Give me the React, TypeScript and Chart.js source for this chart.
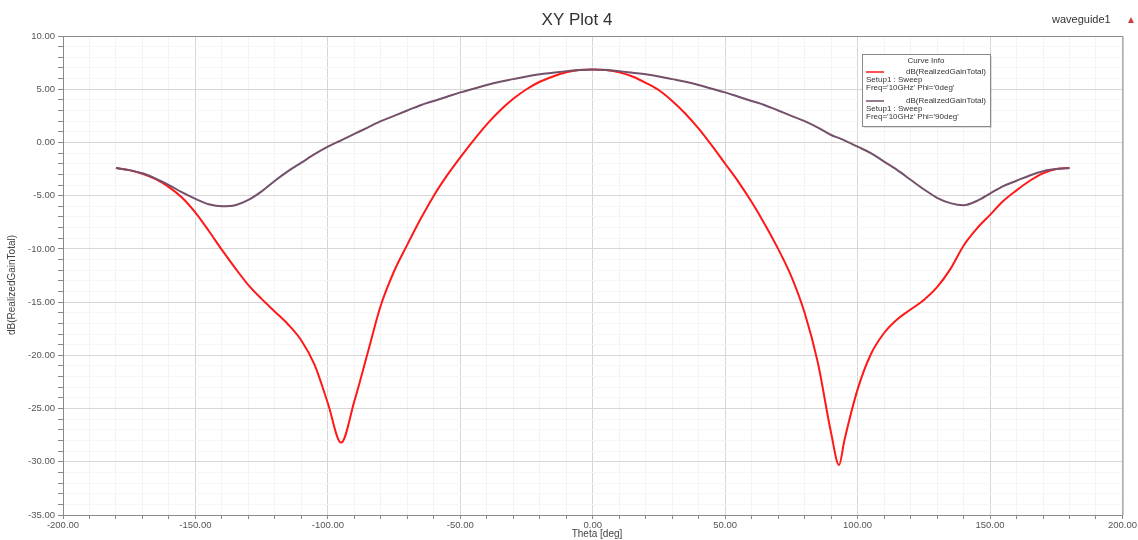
import React, { useEffect, useRef } from "react";
import { Chart, registerables } from "chart.js";

Chart.register(...registerables);

const theta = [
  -180, -175, -170, -165, -160, -155, -150, -145, -140, -135, -130, -125, -120, -115, -110, -105, -100, -95, -90, -85,
  -80, -75, -70, -65, -60, -55, -50, -45, -40, -35, -30, -25, -20, -15, -10, -5, 0, 5, 10, 15, 20, 25, 30, 35, 40, 45,
  50, 55, 60, 65, 70, 75, 80, 85, 90, 93, 95, 100, 105, 110, 115, 120, 125, 130, 135, 140, 145, 150, 155, 160, 165,
  170, 175, 180,
];

const gainPhi0 = [
  -2.4, -2.6, -2.95, -3.45, -4.2, -5.2, -6.6, -8.3, -10.1, -11.8, -13.4, -14.7, -15.9, -17.1, -18.6, -20.9, -24.5, -28.2,
  -24.3, -19.8, -15.3, -12.1, -9.6, -7.2, -5.0, -3.1, -1.4, 0.2, 1.7, 3.0, 4.1, 5.0, 5.7, 6.2, 6.6, 6.8, 6.85, 6.8, 6.6,
  6.2, 5.6, 4.9, 3.9, 2.7, 1.3, -0.3, -2.0, -3.7, -5.6, -7.7, -10.0, -12.6, -16.0, -20.7, -27.3, -30.3, -28.0, -23.2,
  -19.9, -17.9, -16.6, -15.7, -14.8, -13.6, -11.9, -9.7, -8.1, -6.8, -5.5, -4.5, -3.6, -2.9, -2.5, -2.4,
];

const gainPhi90 = [
  -2.4, -2.6, -2.9, -3.4, -4.0, -4.7, -5.3, -5.8, -6.0, -5.9, -5.4, -4.6, -3.6, -2.7, -1.9, -1.1, -0.4, 0.2, 0.8, 1.4,
  2.0, 2.5, 3.0, 3.5, 3.9, 4.3, 4.7, 5.05, 5.4, 5.7, 5.95, 6.2, 6.4, 6.55, 6.7, 6.8, 6.85, 6.8, 6.7, 6.55, 6.4, 6.2,
  5.95, 5.7, 5.4, 5.05, 4.7, 4.3, 3.9, 3.5, 3.0, 2.5, 2.0, 1.4, 0.7, 0.4, 0.2, -0.4, -1.0, -1.8, -2.6, -3.5, -4.4, -5.2,
  -5.7, -5.9, -5.5, -4.8, -4.1, -3.6, -3.1, -2.7, -2.5, -2.4,
];

const seriesNames = ["dB(RealizedGainTotal)", "dB(RealizedGainTotal)"];
const seriesSetup = ["Setup1 : Sweep", "Setup1 : Sweep"];
const seriesFreq = ["Freq='10GHz' Phi='0deg'", "Freq='10GHz' Phi='90deg'"];
const seriesColors = ["rgb(255,24,24)", "#74506b"];

const xMin = -200, xMax = 200, xStep = 10, xMajor = 50;
const yMin = -35, yMax = 10, yStep = 1, yMajor = 5;

const FONT = "Arial, 'Liberation Sans', sans-serif";

const overlayPlugin = {
  id: "overlay",
  afterDraw(chart: any) {
    const ctx = chart.ctx as CanvasRenderingContext2D;
    const a = chart.chartArea;
    ctx.save();
    // plot frame top/right
    ctx.strokeStyle = "#8a8a8a";
    ctx.lineWidth = 1;
    ctx.beginPath();
    ctx.moveTo(a.left, a.top + 0.5);
    ctx.lineTo(a.right + 0.5, a.top + 0.5);
    ctx.lineTo(a.right + 0.5, a.bottom);
    ctx.stroke();

    // title
    ctx.fillStyle = "#333";
    ctx.font = `17px ${FONT}`;
    ctx.textAlign = "center";
    ctx.textBaseline = "middle";
    ctx.fillText("XY Plot 4", 577, 20);

    // waveguide1
    ctx.font = `11px ${FONT}`;
    ctx.textAlign = "left";
    ctx.fillStyle = "#333";
    ctx.fillText("waveguide1", 1052, 20);
    ctx.fillStyle = "#d04040";
    ctx.beginPath();
    ctx.moveTo(1128, 23);
    ctx.lineTo(1134, 23);
    ctx.lineTo(1131, 17);
    ctx.closePath();
    ctx.fill();

    // axis titles
    ctx.fillStyle = "#444";
    ctx.font = `10px ${FONT}`;
    ctx.textAlign = "center";
    ctx.fillText("Theta [deg]", 597, 534);
    ctx.save();
    ctx.translate(12, 285);
    ctx.rotate(-Math.PI / 2);
    ctx.fillText("dB(RealizedGainTotal)", 0, 0);
    ctx.restore();

    // legend box
    const bx = 862, by = 54, bw = 128, bh = 72;
    ctx.fillStyle = "rgba(0,0,0,0.12)";
    ctx.fillRect(bx + 2, by + 2, bw, bh);
    ctx.fillStyle = "#fff";
    ctx.fillRect(bx, by, bw, bh);
    ctx.strokeStyle = "#888";
    ctx.strokeRect(bx + 0.5, by + 0.5, bw, bh);
    ctx.fillStyle = "#333";
    ctx.font = `8px ${FONT}`;
    ctx.textAlign = "center";
    ctx.fillText("Curve Info", bx + bw / 2, by + 7);
    for (let i = 0; i < 2; i++) {
      const y0 = by + 18 + i * 29;
      ctx.strokeStyle = seriesColors[i];
      ctx.lineWidth = 1.5;
      ctx.beginPath();
      ctx.moveTo(bx + 4, y0);
      ctx.lineTo(bx + 22, y0);
      ctx.stroke();
      ctx.fillStyle = "#333";
      ctx.textAlign = "right";
      ctx.fillText(seriesNames[i], bx + bw - 4, y0);
      ctx.textAlign = "left";
      ctx.fillText(seriesSetup[i], bx + 4, y0 + 8);
      ctx.fillText(seriesFreq[i], bx + 4, y0 + 16);
    }
    ctx.restore();
  },
};

export default function App() {
  const ref = useRef<HTMLCanvasElement | null>(null);
  useEffect(() => {
    document.body.style.margin = "0";
    const canvas = ref.current;
    if (!canvas) return;
    const datasets = [gainPhi0, gainPhi90].map((vals, i) => ({
      label: seriesFreq[i],
      data: theta.map((t, j) => ({ x: t, y: vals[j] })),
      borderColor: seriesColors[i],
      backgroundColor: seriesColors[i],
      borderWidth: 2,
      pointRadius: 0,
      cubicInterpolationMode: "monotone" as const,
      fill: false,
    }));
    const chart = new Chart(canvas, {
      type: "line",
      data: { datasets: datasets.reverse() },
      plugins: [overlayPlugin],
      options: {
        animation: false,
        responsive: false,
        maintainAspectRatio: false,
        layout: { padding: { top: 36, right: 11, left: 0, bottom: 0 }, autoPadding: false },
        plugins: { legend: { display: false }, tooltip: { enabled: false }, title: { display: false } },
        scales: {
          x: {
            type: "linear",
            min: xMin,
            max: xMax,
            afterFit: (s: any) => { s.height = 25; },
            border: { color: "#8a8a8a" },
            grid: {
              color: (c: any) => (c.tick && c.tick.value % xMajor === 0 ? "#d6d6d6" : "#f3f3f3"),
              tickColor: "#8a8a8a",
              tickLength: 4,
            },
            ticks: {
              stepSize: xStep,
              autoSkip: false,
              maxRotation: 0,
              padding: 1,
              color: "#555",
              font: { size: 9.5, family: FONT },
              callback: (v: any) => (Number(v) % xMajor === 0 ? Number(v).toFixed(2) : ""),
            },
          },
          y: {
            type: "linear",
            min: yMin,
            max: yMax,
            afterFit: (s: any) => { s.width = 63; },
            border: { color: "#8a8a8a" },
            grid: {
              color: (c: any) => (c.tick && c.tick.value % yMajor === 0 ? "#d6d6d6" : "#f6f6f6"),
              tickColor: "#8a8a8a",
              tickLength: 5,
            },
            ticks: {
              stepSize: yStep,
              autoSkip: false,
              padding: 3,
              color: "#555",
              font: { size: 9.5, family: FONT },
              callback: (v: any) => (Number(v) % yMajor === 0 ? Number(v).toFixed(2) : ""),
            },
          },
        },
      },
    });
    return () => chart.destroy();
  }, []);
  return (
    <div style={{ width: 1138, height: 540, background: "#fff" }}>
      <canvas ref={ref} width={1138} height={540} style={{ display: "block" }} />
    </div>
  );
}
